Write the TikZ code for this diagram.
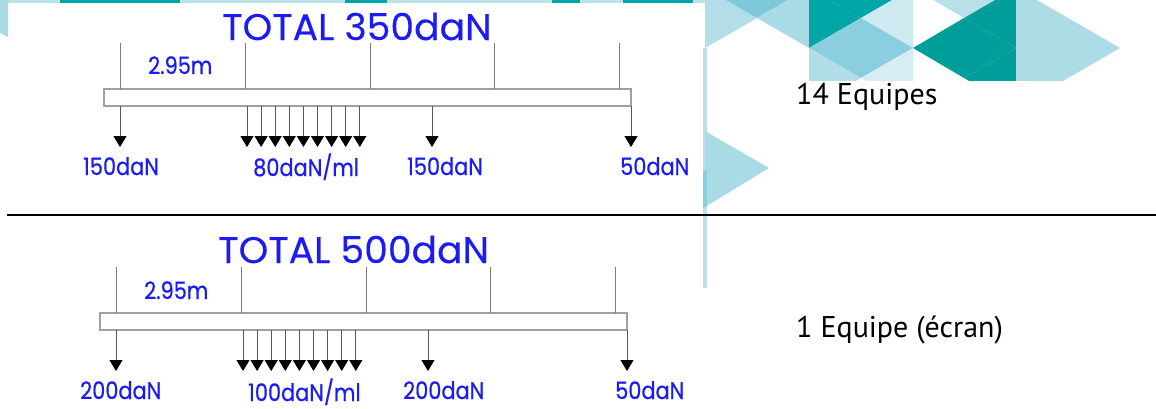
\documentclass[tikz,border=0pt]{standalone}
\usepackage{fontspec}
\usetikzlibrary{arrows.meta}
\newfontfamily\lblfont[FakeStretch=0.87,FakeBold=0.6]{Poppins}
\newfontfamily\totfont[FakeStretch=1.02,FakeBold=0.25]{Poppins}
\newfontfamily\sidefont{PT Sans}
\definecolor{lblblue}{RGB}{28,28,242}
\definecolor{tickgray}{RGB}{125,125,125}
\definecolor{beamgray}{RGB}{160,160,160}
\definecolor{shaftgray}{RGB}{85,85,85}
\definecolor{cLB}{HTML}{B3DEE8}
\definecolor{cLBb}{HTML}{A9DBE6}
\definecolor{cLBc}{HTML}{B0DDE7}
\definecolor{cLBd}{HTML}{B8E0E9}
\definecolor{cLBe}{HTML}{ADDCE6}
\definecolor{cMa}{HTML}{7FC8DB}
\definecolor{cMb}{HTML}{8BCEDF}
\definecolor{cT}{HTML}{00A6A6}
\definecolor{cDT}{HTML}{009E9B}
\definecolor{cVL}{HTML}{CFEAF1}
\definecolor{cVLb}{HTML}{D6EDF3}
\definecolor{cStrip}{HTML}{BDE2EA}
\newcommand\beamgeom[1]{%
  \coordinate (#1-bl) at (104,89);
  \coordinate (#1-br) at (631,106);
  \draw[beam] (#1-bl) rectangle (#1-br);
  \foreach \xx [count=\i] in {120,245,370,494,619}{
    \coordinate (#1-tt\i) at (\xx,43);
    \coordinate (#1-tb\i) at (\xx,89);
    \draw[tick] (#1-tt\i) -- (#1-tb\i);
  }
  \foreach \xx [count=\i] in {120,432,631}{
    \coordinate (#1-ps\i) at (\xx,106);
    \coordinate (#1-pe\i) at (\xx,147);
    \draw[load] (#1-ps\i) -- (#1-pe\i);
  }
  \foreach \k in {0,...,8}{
    \coordinate (#1-ds\k) at (247+14.1*\k,106);
    \coordinate (#1-de\k) at (247+14.1*\k,147);
    \draw[load] (#1-ds\k) -- (#1-de\k);
  }
}
\begin{document}
\begin{tikzpicture}[x=1pt,y=-1pt,
  lbl/.style={font=\lblfont\fontsize{24}{24}\selectfont, text=lblblue, inner sep=0pt, anchor=base west},
  totl/.style={font=\totfont\fontsize{37}{37}\selectfont, text=lblblue, inner sep=0pt, anchor=base west},
  side/.style={font=\sidefont\fontsize{30}{30}\selectfont, text=black, inner sep=0pt, anchor=base west},
  tick/.style={draw=tickgray, line width=1pt},
  load/.style={draw=shaftgray, line width=1pt, -{Triangle[width=13pt,length=11pt,black]}},
  beam/.style={draw=beamgray, line width=1.2pt, fill=white}]
\useasboundingbox (0,0) rectangle (1156,408);
\fill[white] (0,0) rectangle (1156,408);
% ---- decorative background
\fill[cStrip] (0,0) rectangle (705,2.5);
\foreach \a/\b in {60/180,345/387,552/580,623/693}{\fill[cT] (\a,0) rectangle (\b,2.5);}
\fill[cLBb] (0,0) -- (8,0) -- (8,37) -- (0,33) -- cycle;
\begin{scope}
\clip (703,0) rectangle (1156,80);
\fill[cLB] (705,-12) -- (705,48) -- (757,18) -- cycle;
\fill[cMa] (705,-12) -- (757,18) -- (757,-42) -- cycle;
\fill[cMa] (757,-42) -- (757,18) -- (809,-12) -- cycle;
\fill[cLBb] (757,18) -- (809,-12) -- (809,48) -- cycle;
\fill[cT] (809,-12) -- (809,48) -- (861,18) -- cycle;
\fill[cT] (809,-12) -- (861,18) -- (861,-42) -- cycle;
\fill[cT] (861,-42) -- (861,18) -- (913,-12) -- cycle;
\fill[cVL] (861,18) -- (913,-12) -- (913,48) -- cycle;
\fill[cMb] (809,48) -- (861,18) -- (861,78) -- cycle;
\fill[cMb] (861,18) -- (913,48) -- (861,78) -- cycle;
\fill[cLBc] (809,48) -- (861,78) -- (809,108) -- cycle;
\fill[cVLb] (861,78) -- (913,48) -- (913,108) -- cycle;
\fill[cLBd] (913,-12) -- (964,18) -- (964,-42) -- cycle;
\fill[cLBd] (964,-42) -- (964,18) -- (1016,-12) -- cycle;
\fill[cDT] (913,48) -- (964,18) -- (964,78) -- cycle;
\fill[cDT] (964,18) -- (1016,-12) -- (1016,48) -- cycle;
\fill[cDT] (964,18) -- (1016,48) -- (964,78) -- cycle;
\fill[cDT] (964,78) -- (1016,48) -- (1016,108) -- cycle;
\fill[cLBe] (1016,-12) -- (1016,108) -- (1120,48) -- cycle;
\end{scope}
\fill[cStrip] (703,48) rectangle (707,288);
\fill[cLBb] (705,131) -- (705,207) -- (769,168) -- cycle;
\fill[cMb] (703,170) rectangle (707,207);
% ---- separator
\coordinate (sepL) at (7,215);
\coordinate (sepR) at (1156,215);
\draw[line width=2.2pt, black] (sepL) -- (sepR);
% ---- top diagram
\beamgeom{t}
\node[totl] (t-total) at (222,40) {TOTAL 350daN};
\node[lbl] (t-len) at (148,74) {2.95m};
\node[lbl] (t-l1) at (83,175) {150daN};
\node[lbl] (t-l2) at (253,176) {80daN/ml};
\node[lbl] (t-l3) at (407,175) {150daN};
\node[lbl] (t-l4) at (620,175) {50daN};
% ---- bottom diagram
\begin{scope}[shift={(-4,224)}]
\beamgeom{b}
\end{scope}
\node[totl] (b-total) at (218,263) {TOTAL 500daN};
\node[lbl] (b-len) at (144,299) {2.95m};
\node[lbl] (b-l1) at (80,399) {200daN};
\node[lbl] (b-l2) at (248,401) {100daN/ml};
\node[lbl] (b-l3) at (403,399) {200daN};
\node[lbl] (b-l4) at (615,399) {50daN};
% ---- side texts
\node[side] (s1) at (796,104) {14 Equipes};
\node[side] (s2) at (796,337) {1 Equipe (écran)};
\end{tikzpicture}
\end{document}
